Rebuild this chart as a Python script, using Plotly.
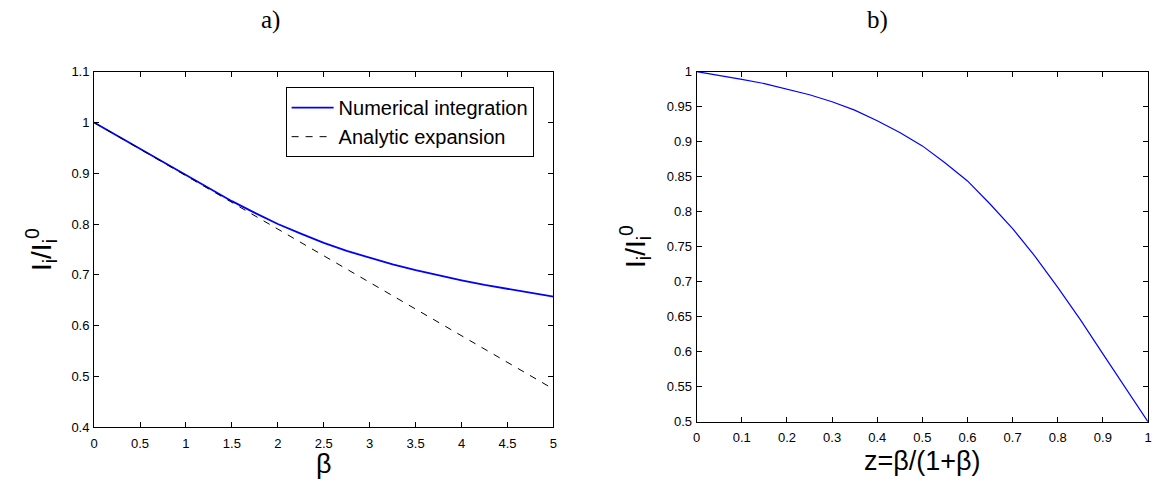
import plotly.graph_objects as go

# ---- data ----
beta = [0, 0.25, 0.5, 0.75, 1.0, 1.25, 1.5, 1.75, 2.0, 2.25, 2.5, 2.75, 3.0, 3.25, 3.5,
        3.75, 4.0, 4.25, 4.5, 4.75, 5.0]
numerical_a = [1.0, 0.974, 0.948, 0.922, 0.896, 0.870, 0.845, 0.822, 0.800, 0.781, 0.763,
               0.747, 0.733, 0.7205, 0.709, 0.6985, 0.689, 0.680, 0.672, 0.664, 0.657]
beta_analytic = [0, 5]
analytic_a = [1.0, 0.475]

z = [0, 0.05, 0.1, 0.15, 0.2, 0.25, 0.3, 0.35, 0.4, 0.45, 0.5, 0.55, 0.6, 0.65, 0.7,
     0.75, 0.8, 0.85, 0.9, 0.95, 1.0]
ratio_b = [1.0, 0.995, 0.989, 0.983, 0.9755, 0.967, 0.957, 0.945, 0.930, 0.913, 0.894,
           0.870, 0.844, 0.811, 0.776, 0.736, 0.692, 0.646, 0.597, 0.549, 0.5]

xticks_a = [0, 0.5, 1, 1.5, 2, 2.5, 3, 3.5, 4, 4.5, 5]
xtext_a = ["0", "0.5", "1", "1.5", "2", "2.5", "3", "3.5", "4", "4.5", "5"]
yticks_a = [0.4, 0.5, 0.6, 0.7, 0.8, 0.9, 1.0, 1.1]
ytext_a = ["0.4", "0.5", "0.6", "0.7", "0.8", "0.9", "1", "1.1"]
xticks_b = [0, 0.1, 0.2, 0.3, 0.4, 0.5, 0.6, 0.7, 0.8, 0.9, 1.0]
xtext_b = ["0", "0.1", "0.2", "0.3", "0.4", "0.5", "0.6", "0.7", "0.8", "0.9", "1"]
yticks_b = [0.5, 0.55, 0.6, 0.65, 0.7, 0.75, 0.8, 0.85, 0.9, 0.95, 1.0]
ytext_b = ["0.5", "0.55", "0.6", "0.65", "0.7", "0.75", "0.8", "0.85", "0.9", "0.95", "1"]

W, H = 1156, 488


def px(x):
    return x / W


def py(y):
    return 1 - y / H


SANS = "Liberation Sans, Arial, Helvetica, sans-serif"
SERIF = "Liberation Serif, DejaVu Serif, serif"

fig = go.Figure()
fig.add_trace(go.Scatter(x=beta, y=numerical_a, mode="lines", name="Numerical integration",
                         line=dict(color="#0000ff", width=1.8), xaxis="x", yaxis="y"))
fig.add_trace(go.Scatter(x=beta_analytic, y=analytic_a, mode="lines", name="Analytic expansion",
                         line=dict(color="black", width=1, dash="7px,7px"), xaxis="x", yaxis="y"))
fig.add_trace(go.Scatter(x=z, y=ratio_b, mode="lines", showlegend=False,
                         line=dict(color="#0000ff", width=1.2), xaxis="x2", yaxis="y2"))

axis_style = dict(showline=True, linecolor="black", linewidth=1, mirror="ticks",
                  ticks="inside", ticklen=5, tickwidth=1, tickcolor="black",
                  showgrid=False, zeroline=False, tickmode="array",
                  tickfont=dict(family=SANS, size=13, color="black"))

fig.update_layout(
    width=W, height=H,
    margin=dict(l=0, r=0, t=0, b=0),
    paper_bgcolor="white", plot_bgcolor="white",
    xaxis=dict(domain=[px(90.7), px(553.3)], range=[0, 5], tickvals=xticks_a, ticktext=xtext_a,
               anchor="y", ticklabelstandoff=4, **axis_style),
    yaxis=dict(domain=[py(433.5), py(66.7)], range=[0.4, 1.1], tickvals=yticks_a, ticktext=ytext_a,
               anchor="x", ticklabelstandoff=1, **axis_style),
    xaxis2=dict(domain=[px(697.5), px(1152)], range=[0, 1], tickvals=xticks_b, ticktext=xtext_b,
                anchor="y2", ticklabelstandoff=4, **axis_style),
    yaxis2=dict(domain=[py(428), py(66.7)], range=[0.5, 1.0], tickvals=yticks_b, ticktext=ytext_b,
                anchor="x2", ticklabelstandoff=1, **axis_style),
    legend=dict(x=px(533.3), y=py(82.7), xanchor="right", yanchor="top",
                bgcolor="white", bordercolor="black", borderwidth=1, itemwidth=42,
                font=dict(family=SANS, size=20, color="black"), tracegroupgap=0),
    showlegend=True,
)

ann = [
    dict(text="a)", x=px(268), y=py(13), font=dict(family=SERIF, size=25)),
    dict(text="b)", x=px(880), y=py(13), font=dict(family=SERIF, size=25)),
    dict(text="β", x=px(322), y=py(471), font=dict(family=SANS, size=27)),
    dict(text="z=β/(1+β)", x=px(924.7), y=py(468), font=dict(family=SANS, size=27)),
    dict(text="I<sub>i</sub>/I<sub>i</sub><sup>0</sup>", x=px(38), y=py(250), textangle=-90,
         font=dict(family=SANS, size=28)),
    dict(text="I<sub>i</sub>/I<sub>i</sub><sup>0</sup>", x=px(636), y=py(247), textangle=-90,
         font=dict(family=SANS, size=28)),
]
for a in ann:
    a.update(xref="paper", yref="paper", showarrow=False, xanchor="center", yanchor="middle")
    a["font"]["color"] = "black"
fig.update_layout(annotations=ann)

fig.write_html("out.html")
